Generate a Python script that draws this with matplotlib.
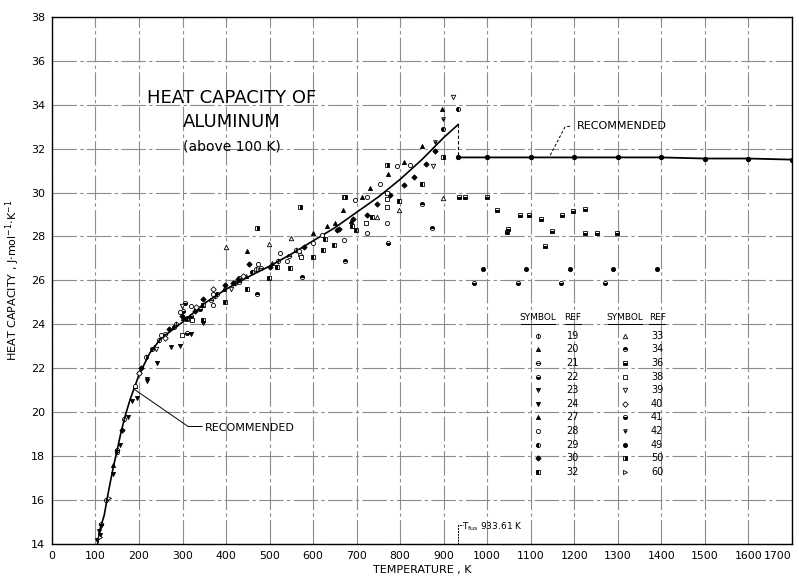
import matplotlib
matplotlib.use("Agg")
import numpy as np
import matplotlib.pyplot as plt
from matplotlib.path import Path

# ---------------------------------------------------------------------------
# data
# ---------------------------------------------------------------------------

# recommended curve, solid
rec_T = [105, 110, 120, 130, 140, 150, 160, 170, 180, 190, 200, 225, 250, 300,
         350, 400, 450, 500, 550, 600, 650, 700, 750, 800, 850, 900, 933.61]
rec_C = [14.0, 14.65, 15.3, 16.4, 17.4, 18.3, 19.2, 19.95, 20.6, 21.15, 21.7,
         22.7, 23.35, 24.1, 24.95, 25.6, 26.15, 26.65, 27.2, 27.8, 28.4, 29.1,
         29.8, 30.6, 31.5, 32.5, 33.1]

# recommended curve, liquid
liq_T = [933.61, 1000, 1100, 1200, 1300, 1400, 1500, 1600, 1700]
liq_C = [31.6, 31.6, 31.6, 31.6, 31.6, 31.6, 31.55, 31.55, 31.5]

T_fus = 933.61

# experimental points per reference
t19 = [125, 165, 215, 245, 285, 330, 375, 420, 470, 520, 560]
c19 = [16.0, 19.7, 22.5, 23.3, 24.0, 24.7, 25.3, 25.9, 26.5, 26.9, 27.4]
t20 = [140, 190, 235, 300, 345, 395, 445, 505]
c20 = [17.6, 21.2, 22.95, 24.3, 24.9, 25.6, 26.2, 26.8]
t21 = [112, 150, 200, 260, 310, 365, 430, 480, 545]
c21 = [14.9, 18.3, 21.8, 23.55, 24.3, 25.1, 25.95, 26.55, 27.1]
t22 = [300, 305, 310, 320, 340]
c22 = [24.6, 24.95, 23.6, 24.4, 24.7]
t23 = [104, 218, 294, 347]
c23 = [14.2, 21.5, 23.0, 24.05]
t24 = [107, 110, 113, 140, 156, 175, 185, 195, 218, 241, 274, 320]
c24 = [14.6, 14.4, 14.8, 17.2, 18.5, 19.8, 20.5, 20.65, 21.4, 22.24, 22.97, 23.56]
t27 = [448, 600, 632, 651, 669, 687, 712, 731, 772, 810, 850, 896]
c27 = [27.35, 28.15, 28.5, 28.6, 29.2, 28.7, 29.8, 30.2, 30.85, 31.4, 32.1, 33.8]
t28 = [474, 524, 540, 568, 570, 600, 621, 671, 697, 724, 724, 754, 770, 793,
       823, 320, 294, 370, 370, 190, 250, 430]
c28 = [26.75, 27.25, 26.9, 27.34, 27.16, 27.7, 28.07, 27.85, 29.67, 29.8,
       28.16, 30.4, 28.6, 31.2, 31.26, 24.85, 24.57, 25.4, 24.9, 21.2, 23.5, 26.1]
t29 = [899, 933, 150, 230, 280, 380, 460]
c29 = [32.9, 33.8, 18.2, 22.9, 23.9, 25.4, 26.4]
t30 = [880, 860, 832, 809, 777, 747, 724, 692, 655, 660, 453, 428, 416, 398,
       347, 329, 299, 160, 205, 270, 500, 580]
c30 = [31.9, 31.3, 30.7, 30.35, 29.9, 29.5, 29.0, 28.8, 28.3, 28.35, 26.75,
       26.07, 25.9, 25.8, 25.16, 24.6, 24.4, 19.2, 22.0, 23.8, 26.6, 27.5]
t32 = [851, 798, 736, 690, 699, 628, 648, 623, 600, 547, 517, 499, 448, 398,
       347, 310, 347]
c32 = [30.4, 29.6, 28.9, 28.5, 28.3, 27.9, 27.6, 27.4, 27.07, 26.57, 26.6,
       26.1, 25.6, 25.0, 24.9, 24.25, 24.2]
t33 = [400, 499, 549, 747, 798, 899]
c33 = [27.5, 27.66, 27.93, 28.9, 29.2, 29.76]
t34 = [574, 674, 471, 851, 873]
c34 = [26.16, 26.9, 25.4, 29.5, 28.4]
t36 = [936, 949, 1000, 1023, 1046, 1048, 1076, 1097, 1124, 1133, 1149, 1172,
       1198, 1225, 1225, 1253, 1299]
c36 = [29.8, 29.8, 29.8, 29.2, 28.2, 28.35, 29.0, 29.0, 28.8, 27.57, 28.25,
       29.0, 29.16, 29.25, 28.16, 28.16, 28.16]
t38 = [770, 770, 770, 722, 573, 322, 299, 671]
c38 = [30.0, 29.7, 29.35, 28.6, 27.07, 24.2, 23.5, 29.8]
t39 = [876, 922, 411, 299, 240]
c39 = [31.2, 34.35, 25.6, 24.85, 22.9]
t40 = [370, 200, 260, 330, 440]
c40 = [25.6, 21.8, 23.4, 24.8, 26.2]
t41 = [970, 1070, 1170, 1270, 772]
c41 = [25.9, 25.9, 25.9, 25.9, 27.7]
t42 = [899, 880]
c42 = [33.35, 32.3]
t49 = [990, 1090, 1190, 1290, 1390]
c49 = [26.5, 26.5, 26.5, 26.5, 26.5]
t50 = [471, 570, 673, 770, 899]
c50 = [28.4, 29.35, 29.8, 31.25, 31.6]
t60 = [110, 130]
c60 = [14.3, 16.1]

refs_col1 = [19, 20, 21, 22, 23, 24, 27, 28, 29, 30, 32]
refs_col2 = [33, 34, 36, 38, 39, 40, 41, 42, 49, 50, 60]

series = {19: (t19, c19), 20: (t20, c20), 21: (t21, c21), 22: (t22, c22),
          23: (t23, c23), 24: (t24, c24), 27: (t27, c27), 28: (t28, c28),
          29: (t29, c29), 30: (t30, c30), 32: (t32, c32), 33: (t33, c33),
          34: (t34, c34), 36: (t36, c36), 38: (t38, c38), 39: (t39, c39),
          40: (t40, c40), 41: (t41, c41), 42: (t42, c42), 49: (t49, c49),
          50: (t50, c50), 60: (t60, c60)}

# circle with a bar through it (vertical / horizontal)
circ = Path.unit_circle()
vbar = Path([[0, -1.35], [0, 1.35]], [Path.MOVETO, Path.LINETO])
hbar = Path([[-1.35, 0], [1.35, 0]], [Path.MOVETO, Path.LINETO])
circ_v = Path.make_compound_path(circ, vbar)
circ_h = Path.make_compound_path(circ, hbar)

K = 'black'
MS = 3.0
style = {
    19: dict(marker=circ_v, ms=MS + 1.0, mfc='none', mec=K),
    20: dict(marker='^', ms=MS, fillstyle='bottom', mfc=K, mec=K),
    21: dict(marker=circ_h, ms=MS + 1.0, mfc='none', mec=K),
    22: dict(marker='o', ms=MS, fillstyle='bottom', mfc=K, mec=K),
    23: dict(marker='v', ms=MS, fillstyle='top', mfc=K, mec=K),
    24: dict(marker='v', ms=MS, mfc=K, mec=K),
    27: dict(marker='^', ms=MS, mfc=K, mec=K),
    28: dict(marker='o', ms=MS, mfc='white', mec=K),
    29: dict(marker='o', ms=MS, fillstyle='left', mfc=K, mec=K),
    30: dict(marker='D', ms=MS - 0.3, mfc=K, mec=K),
    32: dict(marker='s', ms=MS - 0.2, fillstyle='left', mfc=K, mec=K),
    33: dict(marker='^', ms=MS + 0.2, mfc='white', mec=K),
    34: dict(marker='o', ms=MS, fillstyle='top', mfc=K, mec=K),
    36: dict(marker='s', ms=MS - 0.2, fillstyle='bottom', mfc=K, mec=K),
    38: dict(marker='s', ms=MS, mfc='white', mec=K),
    39: dict(marker='v', ms=MS + 0.2, mfc='white', mec=K),
    40: dict(marker='D', ms=MS - 0.2, mfc='white', mec=K),
    41: dict(marker='o', ms=MS, fillstyle='bottom', mfc=K, mec=K),
    42: dict(marker='v', ms=MS - 0.3, fillstyle='bottom', mfc=K, mec=K),
    49: dict(marker='o', ms=MS, mfc=K, mec=K),
    50: dict(marker='s', ms=MS - 0.2, fillstyle='right', mfc=K, mec=K),
    60: dict(marker='>', ms=MS, mfc='white', mec=K),
}

# ---------------------------------------------------------------------------
# figure
# ---------------------------------------------------------------------------
plt.rcParams['font.family'] = ['DejaVu Sans']

fig = plt.figure(figsize=(7.99, 5.8), dpi=100)
ax = fig.add_axes([0.065, 0.062, 0.926, 0.909])

ax.set_xlim(0, 1700)
ax.set_ylim(14, 38)
ax.set_xticks(np.arange(0, 1701, 100))
ax.set_yticks(np.arange(14, 39, 2))
ax.tick_params(length=0, labelsize=8, pad=5)
ax.tick_params(axis='x', labelsize=7.8)
ax.get_xticklabels()[-1].set_horizontalalignment('right')
ax.grid(True, color='0.55', lw=0.8, ls=(0, (22, 3, 3, 3)))
ax.set_axisbelow(True)
for s in ax.spines.values():
    s.set_linewidth(1.0)

ax.set_xlabel('TEMPERATURE , K', fontsize=8, labelpad=3)
ax.set_ylabel('HEAT CAPACITY , J$\\cdot$mol$^{-1}$$\\cdot$K$^{-1}$', fontsize=8, labelpad=6)

# recommended curves
ax.plot(rec_T, rec_C, color=K, lw=1.2, zorder=4)
ax.plot(liq_T, liq_C, color=K, lw=1.3, marker='o', ms=2.8, zorder=4)
ax.plot([T_fus, T_fus], [rec_C[-1], liq_C[0]], color=K, lw=0.8, ls=(0, (3, 2)), zorder=4)

# data points
for r, (tt, cc) in series.items():
    ax.plot(tt, cc, ls='none', mew=0.6, zorder=5, **style[r])

# title
ax.text(414, 34.3, 'HEAT CAPACITY OF', fontsize=13, ha='center', va='center')
ax.text(414, 33.2, 'ALUMINUM', fontsize=13, ha='center', va='center')
ax.text(414, 32.1, '(above 100 K)', fontsize=10, ha='center', va='center')

# recommended labels
ax.plot([188, 313, 345], [21.06, 19.35, 19.35], color=K, lw=0.7)
ax.text(352, 19.3, 'RECOMMENDED', fontsize=8, va='center')
ax.plot([1145, 1179, 1195], [31.7, 32.99, 33.03], color=K, lw=0.7, ls=(0, (3, 2)))
ax.text(1205, 33.03, 'RECOMMENDED', fontsize=8, va='center')

# melting point
ax.plot([T_fus, T_fus, T_fus + 10], [14, 14.85, 14.85], color=K, lw=0.7, ls=(0, (2, 1)))
ax.text(T_fus + 8, 14.8, 'T$_{\\rm fus}$ 933.61 K', fontsize=6.5, va='center')

# symbol table
tr = ax.transAxes
x_sym = [0.657, 0.774]
x_ref = [0.704, 0.818]
y_head = 0.429
y0 = 0.395
dy = 0.0258
for col, refs in enumerate([refs_col1, refs_col2]):
    ax.text(x_sym[col], y_head, 'SYMBOL', transform=tr, fontsize=6.5,
            ha='center', va='center')
    ax.text(x_ref[col], y_head, 'REF', transform=tr, fontsize=6.5,
            ha='center', va='center')
    ax.plot([x_sym[col] - 0.023, x_sym[col] + 0.023], [y_head - 0.012] * 2,
            transform=tr, color=K, lw=0.7)
    ax.plot([x_ref[col] - 0.011, x_ref[col] + 0.011], [y_head - 0.012] * 2,
            transform=tr, color=K, lw=0.7)
    for i, r in enumerate(refs):
        y = y0 - i * dy
        ax.plot([x_sym[col]], [y], transform=tr, ls='none', mew=0.6, **style[r])
        ax.text(x_ref[col], y, str(r), transform=tr, fontsize=7,
                ha='center', va='center')

fig.savefig('out.png', dpi=100)
